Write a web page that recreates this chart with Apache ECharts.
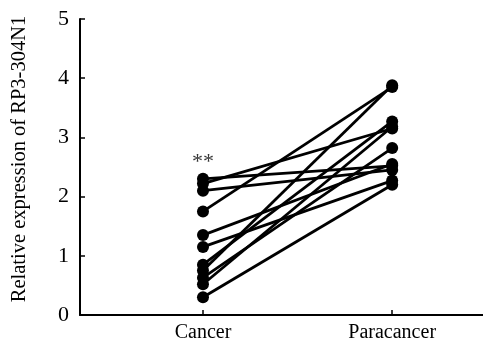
<!DOCTYPE html>
<html><head><meta charset="utf-8">
<script src="https://cdn.jsdelivr.net/npm/echarts@6/dist/echarts.min.js"></script>
<style>html,body{margin:0;padding:0;background:#fff}#c{width:483px;height:344px}</style>
</head><body><div id="c"></div>
<script>
const groups = ['Cancer', 'Paracancer'];
const cancer = [2.30, 2.22, 2.10, 1.75, 1.35, 1.15, 0.85, 0.75, 0.63, 0.52, 0.30];
const paracancer = [2.52, 3.15, 2.45, 3.85, 2.55, 2.27, 3.27, 3.88, 2.82, 3.18, 2.20];
const yTicks = [0, 1, 2, 3, 4, 5];
const significance = '**';
const yTitle = 'Relative expression of RP3-304N1';

const font = 'Liberation Serif, Times New Roman, serif';
const series = cancer.map((c, i) => ({
  type: 'line',
  data: [[1, c], [2, paracancer[i]]],
  symbol: 'circle',
  symbolSize: 12,
  itemStyle: { color: '#000' },
  lineStyle: { color: '#000', width: 2.8 },
  silent: true,
  animation: false
}));
series.push({
  type: 'scatter',
  data: [[1, 2.58]],
  symbolSize: 0,
  label: { show: true, position: 'inside', formatter: significance, color: '#000', fontSize: 22, fontFamily: font },
  animation: false
});

const chart = echarts.init(document.getElementById('c'));
chart.setOption({
  animation: false,
  grid: { left: 80, right: 0, top: 19, bottom: 29 },
  xAxis: {
    type: 'value', min: 0.35, max: 2.48,
    axisLine: { lineStyle: { color: '#000', width: 2 } },
    axisTick: { show: true, inside: true, length: 5, customValues: [1, 2], lineStyle: { color: '#000', width: 1.5 } },
    axisLabel: { customValues: [1, 2], formatter: v => groups[Math.round(v) - 1], color: '#000', fontSize: 20, fontFamily: font, margin: 8 },
    splitLine: { show: false }
  },
  yAxis: {
    type: 'value', min: 0, max: 5, interval: 1,
    name: yTitle, nameLocation: 'middle', nameGap: 50,
    nameTextStyle: { color: '#000', fontSize: 20.5, fontFamily: font, padding: [0, 0, 0, 16] },
    axisLine: { show: true, lineStyle: { color: '#000', width: 2 } },
    axisTick: { show: true, inside: true, length: 5, lineStyle: { color: '#000', width: 1.5 } },
    axisLabel: { color: '#000', fontSize: 22, fontFamily: font, margin: 11, formatter: v => yTicks.includes(v) ? String(v) : '' },
    splitLine: { show: false }
  },
  series
});
</script></body></html>
